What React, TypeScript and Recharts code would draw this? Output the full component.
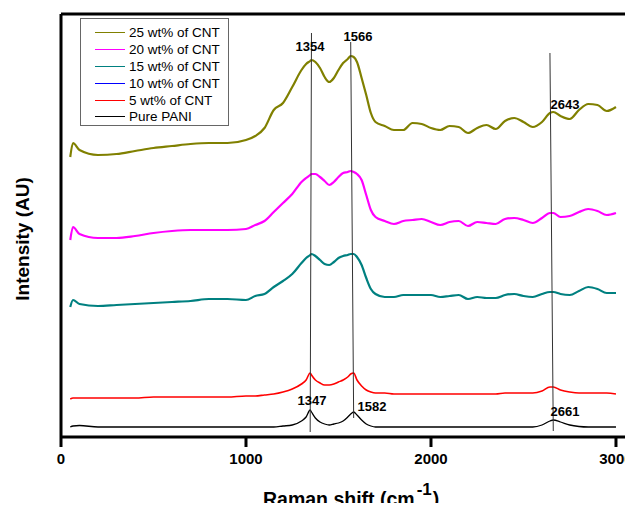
import { Line, LineChart, ReferenceDot, ReferenceLine, XAxis, YAxis } from "recharts";

const FONT = '"Liberation Sans", Arial, Helvetica, sans-serif';

// Raman shift grid (cm-1), denser around the D and G bands
const wavenumbers = [
  50, 65, 100, 200, 300, 400, 500, 600, 700, 800, 900, 1000, 1050, 1100, 1150, 1200, 1250, 1300,
  1325, 1347, 1354, 1375, 1400, 1425, 1450, 1475, 1500, 1525, 1550, 1566, 1582, 1600, 1625, 1650,
  1675, 1700, 1750, 1800, 1850, 1900, 1950, 2000, 2050, 2100, 2150, 2200, 2250, 2300, 2350, 2400,
  2450, 2500, 2550, 2600, 2643, 2661, 2700, 2750, 2800, 2850, 2900, 2950, 3000,
];

// stacked intensities (a.u.), each trace carries its own offset
const pani = [
  10, 11, 11.5, 10, 10, 10, 10, 10, 10, 10, 10, 10, 10, 10, 10, 11, 12, 16,
  20, 27, 25, 19, 15, 13, 12, 13, 14, 16, 20, 23, 25, 22, 17, 13,
  11, 10, 10, 10, 10, 10, 10, 10, 10, 10, 10, 10, 10, 10, 10, 10,
  10, 10, 10, 12, 16, 17, 15, 12, 10.5, 10, 10, 10, 10,
];

const cnt5 = [
  38, 39, 39, 39, 39, 39, 40, 40, 40, 40, 40, 41, 41, 42, 43, 45, 48, 53,
  57, 64, 62, 57, 54, 52, 52, 53, 55, 57, 60, 63, 64, 57, 51, 47,
  45, 44, 44, 43, 43, 43, 43, 43, 43, 43, 43, 43, 43, 43, 43, 44,
  44, 44, 44, 46, 50, 50, 47, 45, 44, 44, 44, 44, 43,
];

const cnt15 = [
  130, 137, 133, 131, 132, 133, 134, 135, 136, 138, 138, 137, 141, 143, 150, 156, 163, 174,
  179, 182, 183, 181, 177, 173, 172, 175, 179, 181, 182, 183, 183, 180, 172, 159,
  148, 143, 140, 140, 142, 142, 142, 142, 140, 141, 142, 138, 140, 139, 139, 142,
  143, 141, 140, 143, 145, 145, 143, 142, 146, 150, 148, 144, 144,
];

const cnt20 = [
  197, 210, 203, 199, 199, 201, 204, 206, 207, 207, 207, 208, 212, 216, 225, 234, 243, 255,
  259, 262, 263, 263, 260, 256, 252, 255, 260, 264, 265, 266, 265, 263, 257, 242,
  227, 220, 216, 213, 216, 217, 218, 215, 212, 215, 216, 211, 215, 214, 213, 218,
  219, 217, 214, 219, 224, 224, 220, 221, 225, 228, 226, 222, 224,
];

const cnt25 = [
  280, 294, 287, 282, 283, 286, 289, 291, 293, 294, 294, 297, 301, 309, 327, 334, 350, 367,
  373, 376, 377, 375, 369, 360, 355, 359, 367, 374, 378, 381, 380, 375, 359, 342,
  324, 315, 311, 307, 307, 314, 313, 309, 307, 311, 310, 304, 309, 312, 308, 316,
  319, 315, 310, 315, 324, 325, 321, 318, 327, 333, 332, 326, 330,
];

const xTicks = [0, 1000, 2000, 3000];

const legendItems = [
  { name: "25 wt% of CNT", color: "#808000" },
  { name: "20 wt% of CNT", color: "#ff00ff" },
  { name: "15 wt% of CNT", color: "#008080" },
  { name: "10 wt% of CNT", color: "#0000ff" },
  { name: "5 wt% of CNT", color: "#ff0000" },
  { name: "Pure PANI", color: "#000000" },
];

// guide lines joining the composite peaks to the pure PANI peaks
const peakGuides = [
  { from: 1354, to: 1347, top: 404, bottom: 5 },
  { from: 1566, to: 1582, top: 395, bottom: 19 },
  { from: 2643, to: 2661, top: 384, bottom: 6 },
];

const peakTags = [
  { text: "1354", x: 1346, y: 391 },
  { text: "1566", x: 1605, y: 401 },
  { text: "2643", x: 2724, y: 333 },
  { text: "1347", x: 1357, y: 37 },
  { text: "1582", x: 1681, y: 31 },
  { text: "2661", x: 2724, y: 26 },
];

const rows = wavenumbers.map((w, i) => ({
  w,
  pani: pani[i],
  cnt5: cnt5[i],
  cnt15: cnt15[i],
  cnt20: cnt20[i],
  cnt25: cnt25[i],
}));

function XTitle() {
  return (
    <text x={255} y={498} fill="#000" fontFamily={FONT} fontWeight="bold" fontSize={19.5}>
      Raman shift (cm
      <tspan dx={2} dy={-11} fontSize={17}>-1</tspan>
      <tspan dx={1} dy={11}>)</tspan>
    </text>
  );
}

function YTitle() {
  return (
    <text
      x={21}
      y={231}
      transform="rotate(-90, 21, 231)"
      textAnchor="middle"
      fill="#000"
      fontFamily={FONT}
      fontWeight="bold"
      fontSize={19}
    >
      Intensity (AU)
    </text>
  );
}

function SeriesLegend() {
  return (
    <div
      style={{
        position: "absolute",
        left: 72,
        top: 10,
        width: 149,
        height: 108,
        boxSizing: "border-box",
        border: "1px solid #666",
        background: "#fff",
        fontFamily: FONT,
        fontSize: 13.5,
        color: "#000",
      }}
    >
      {legendItems.map((item, i) => (
        <div
          key={item.name}
          style={{
            position: "absolute",
            left: 14,
            top: 5.6 + i * 16.8,
            height: 16.8,
            display: "flex",
            alignItems: "center",
            whiteSpace: "nowrap",
          }}
        >
          <span style={{ width: 30, height: 0, borderTop: `1.5px solid ${item.color}` }} />
          <span style={{ marginLeft: 4 }}>{item.name}</span>
        </div>
      ))}
    </div>
  );
}

export default function App() {
  return (
    <div style={{ position: "relative", width: 625, height: 503, marginBottom: -8, marginRight: -8 }}>
      <LineChart width={625} height={503} data={rows} margin={{ top: 6, right: 0, bottom: 0, left: 0 }}>
        <XAxis
          dataKey="w"
          type="number"
          domain={[0, 3092]}
          ticks={xTicks}
          allowDataOverflow
          height={74}
          axisLine={{ stroke: "#000", strokeWidth: 3 }}
          tickLine={{ stroke: "#000", strokeWidth: 3 }}
          tickSize={10}
          tickMargin={6}
          tick={{ fill: "#000", fontSize: 15, fontWeight: "bold", fontFamily: FONT }}
          label={XTitle}
        />
        <YAxis
          type="number"
          domain={[0, 423]}
          allowDataOverflow
          width={53}
          tick={false}
          tickLine={false}
          axisLine={{ stroke: "#000", strokeWidth: 3 }}
          label={YTitle}
        />
        <ReferenceLine y={423} stroke="#000" strokeWidth={3} />
        <Line type="monotone" dataKey="pani" stroke="#000000" strokeWidth={1.3} dot={false} isAnimationActive={false} />
        <Line type="monotone" dataKey="cnt5" stroke="#ff0000" strokeWidth={1.6} dot={false} isAnimationActive={false} />
        <Line type="monotone" dataKey="cnt15" stroke="#008080" strokeWidth={2.2} dot={false} isAnimationActive={false} />
        <Line type="monotone" dataKey="cnt20" stroke="#ff00ff" strokeWidth={2.2} dot={false} isAnimationActive={false} />
        <Line type="monotone" dataKey="cnt25" stroke="#808000" strokeWidth={2.2} dot={false} isAnimationActive={false} />
        {peakGuides.map((g) => (
          <ReferenceLine
            key={g.from}
            segment={[
              { x: g.from, y: g.top },
              { x: g.to, y: g.bottom },
            ]}
            stroke="#333"
            strokeWidth={1}
          />
        ))}
        {peakTags.map((t) => (
          <ReferenceDot
            key={t.text}
            x={t.x}
            y={t.y}
            r={0}
            fill="none"
            stroke="none"
            label={{
              value: t.text,
              position: "center",
              fill: "#000",
              fontSize: 13,
              fontWeight: "bold",
              fontFamily: FONT,
            }}
          />
        ))}
      </LineChart>
      <SeriesLegend />
    </div>
  );
}
